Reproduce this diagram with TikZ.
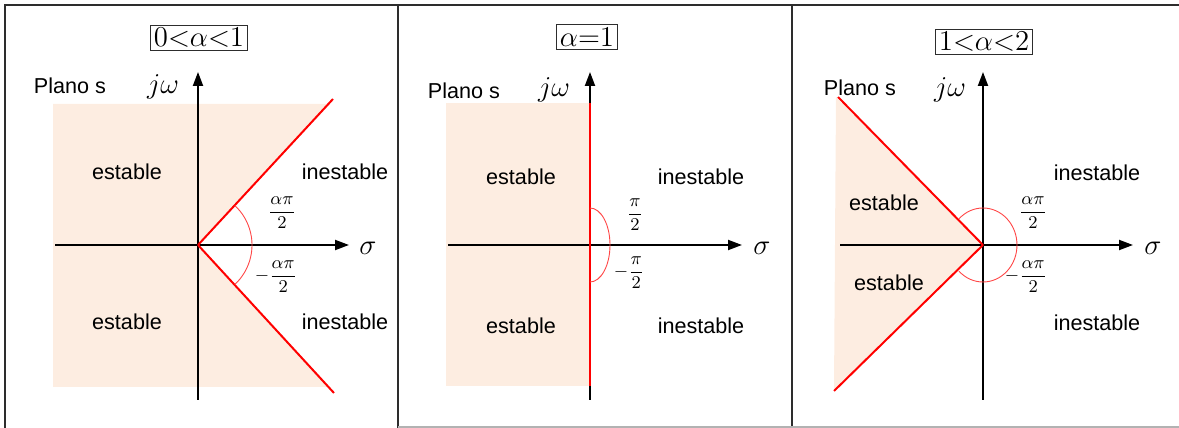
\documentclass[tikz,border=0pt]{standalone}
\usepackage{amsmath}
\usepackage[no-math]{fontspec}
\setmainfont{Liberation Sans}
\usepackage{xcolor}
\usetikzlibrary{arrows.meta,positioning,calc}
\definecolor{stablefill}{RGB}{253,237,225}
\definecolor{framegray}{RGB}{45,45,45}
\definecolor{arcred}{RGB}{255,70,70}

\begin{document}
\begin{tikzpicture}[x=0.5pt, y=0.5pt,
  axis/.style={draw, line width=1pt, -{Triangle[length=7pt, width=5pt]}},
  bound/.style={draw=red, line width=1pt},
  angarc/.style={draw=arcred, line width=0.45pt},
  region/.style={font=\fontsize{10.8}{12}\selectfont},
  plane/.style={font=\fontsize{10.8}{12}\selectfont},
  axlabel/.style={font=\fontsize{15}{18}\selectfont},
  anglabel/.style={font=\fontsize{9}{10}\selectfont, inner sep=0pt},
  casebox/.style={draw=framegray, line width=0.5pt, inner sep=1.5pt,
                  font=\fontsize{15}{17}\selectfont},
  frame/.style={draw=framegray, line width=0.6pt}
]
\useasboundingbox (0,0) rectangle (1179,428);
% Frame
\draw[frame] (5,0) -- (5,423) -- (1179,423);
\draw[frame] (398,0) -- (398,423);
\draw[frame] (792,0) -- (792,423);
\draw[draw=black!30, line width=0.6pt] (398,1) -- (1179,1);

% ---- 0 < alpha < 1
\coordinate (o1) at (198,183);
\fill[stablefill] (53,324) -- (330,324) -- (o1) -- (330,41) -- (53,41) -- cycle;
\draw[axis] (55,183) -- (349,183);
\draw[axis] (198,28) -- (198,356);
\draw[bound] (o1) -- (333,329);
\draw[bound] (o1) -- (334,35);
\draw[angarc] (o1) ++(-47:54) arc[start angle=-47, end angle=47, radius=54];
\node[casebox] (case1) at (199,390) {$0{<}\alpha{<}1$};
\node[plane] (plano1) at (70,342) {Plano s};
\node[axlabel] (jw1) at (163,341) {$j\omega$};
\node[axlabel] (sig1) at (368,180) {$\sigma$};
\node[region] (est1a) at (127,256) {estable};
\node[region] (est1b) at (127,106) {estable};
\node[region] (ine1a) at (345,256) {inestable};
\node[region] (ine1b) at (345,106) {inestable};
\node[anglabel] (ang1a) at (282,215) {$\dfrac{\alpha\pi}{2}$};
\node[anglabel] (ang1b) at (276,151) {$-\dfrac{\alpha\pi}{2}$};

% ---- alpha = 1
\coordinate (o2) at (590,183);
\fill[stablefill] (446,42) rectangle (590,325);
\draw[axis] (448,183) -- (742,183);
\draw[axis] (590,28) -- (590,356);
\draw[bound] (590,325) -- (590,42);
\draw[angarc] (o2) ++(90:20 and 37) arc[start angle=90, end angle=-90, x radius=20, y radius=37];
\node[casebox] (case2) at (587,391) {$\alpha{=}1$};
\node[plane] (plano2) at (464,337) {Plano s};
\node[axlabel] (jw2) at (554,338) {$j\omega$};
\node[axlabel] (sig2) at (762,180) {$\sigma$};
\node[region] (est2a) at (521,251) {estable};
\node[region] (est2b) at (521,102) {estable};
\node[region] (ine2a) at (701,251) {inestable};
\node[region] (ine2b) at (701,102) {inestable};
\node[anglabel] (ang2a) at (635,213) {$\dfrac{\pi}{2}$};
\node[anglabel] (ang2b) at (629,155) {$-\dfrac{\pi}{2}$};

% ---- 1 < alpha < 2
\coordinate (o3) at (983,183);
\fill[stablefill] (836,331) -- (o3) -- (834,37) -- cycle;
\draw[axis] (840,183) -- (1133,183);
\draw[axis] (983,28) -- (983,356);
\draw[bound] (o3) -- (838,331);
\draw[bound] (o3) -- (834,37);
\draw[angarc] (o3) ++(135:34 and 37) arc[start angle=135, end angle=-135, x radius=34, y radius=37];
\node[casebox] (case3) at (984,386) {$1{<}\alpha{<}2$};
\node[plane] (plano3) at (860,340) {Plano s};
\node[axlabel] (jw3) at (950,338) {$j\omega$};
\node[axlabel] (sig3) at (1153,180) {$\sigma$};
\node[region] (est3a) at (884,225) {estable};
\node[region] (est3b) at (889,145) {estable};
\node[region] (ine3a) at (1097,255) {inestable};
\node[region] (ine3b) at (1097,105) {inestable};
\node[anglabel] (ang3a) at (1033,215) {$\dfrac{\alpha\pi}{2}$};
\node[anglabel] (ang3b) at (1026,151) {$-\dfrac{\alpha\pi}{2}$};
\end{tikzpicture}
\end{document}
